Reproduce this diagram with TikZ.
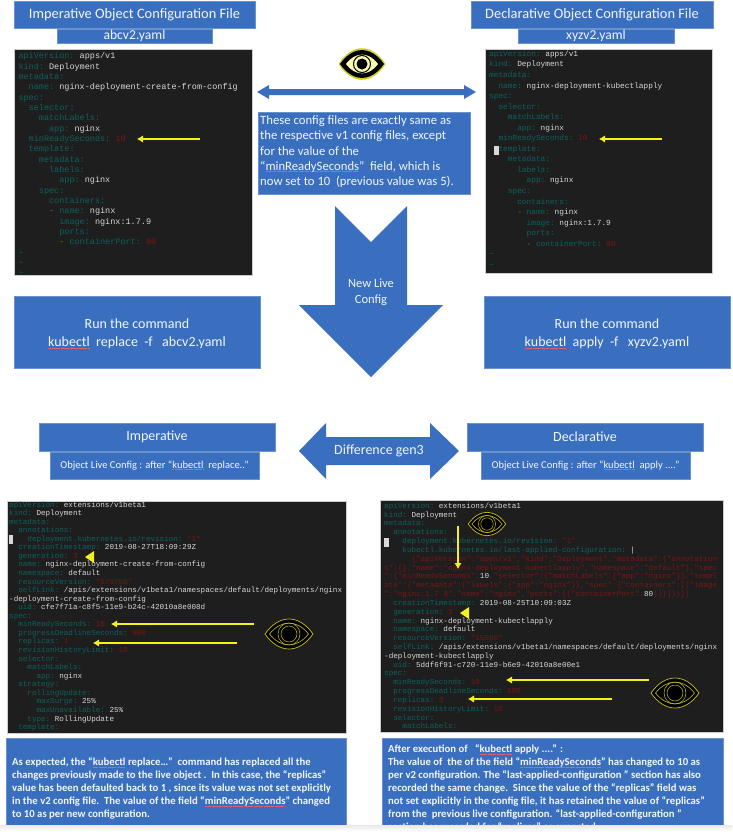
\documentclass[tikz,border=0pt]{standalone}
\usepackage{fontspec}
\usepackage{xcolor}
\setmainfont{Carlito}
\newfontfamily\cm{Liberation Mono}
\usetikzlibrary{arrows.meta}
\definecolor{bl}{HTML}{3A6FBF}
\definecolor{bledge}{HTML}{6A92CF}
\definecolor{tbg}{HTML}{1E1E1E}
\definecolor{kc}{HTML}{0C625E}
\definecolor{vc}{HTML}{D8D8D8}
\definecolor{nc}{HTML}{7A1614}
\definecolor{oc}{HTML}{8A6A10}
\definecolor{wt}{HTML}{F2F6FC}
\definecolor{yl}{HTML}{F5F01E}
\definecolor{sqc}{HTML}{E0606E}
\newcommand\K[1]{\textcolor{kc}{#1}}
\newcommand\N[1]{\textcolor{nc}{#1}}
\newcommand\D{\textcolor{oc}{-}}
\newsavebox\sqbox
\newcommand\sq[1]{\sbox\sqbox{#1}\leavevmode\rlap{\raisebox{-1.4pt}{\hbox to \wd\sqbox{\color{sqc}\xleaders\hbox{\rule{0.5pt}{0.4pt}\kern0.6pt}\hfil}}}\usebox\sqbox}
\newcommand\tl{\K{\textasciitilde}}
\tikzset{
  x=1pt,y=-1pt,
  bluebox/.style={fill=bl,draw=bledge,line width=0.5pt,minimum width=0pt,inner sep=0pt},
  boxtext/.style={text=wt,align=center,inner sep=0pt,font=\fontsize{#1}{#1}\selectfont},
  para/.style={text=wt,align=left,anchor=north west,inner sep=0pt},
  term/.style={fill=tbg,draw=black!20,line width=0.5pt},
  ya/.style={draw=yl,line width=1.8pt,-{Latex[length=6pt,width=7.5pt]}},
  code/.style={anchor=north west,inner sep=0pt,align=left,text=vc},
  cursor/.style={fill=vc},
  eyeW/.pic={
    \fill[yl!85!black] (-23.5,0) .. controls (-10,-21) and (10,-21) .. (23.5,0) .. controls (10,21) and (-10,21) .. (-23.5,0) -- cycle;
    \fill[black] (-22,0) .. controls (-9,-18.5) and (9,-18.5) .. (22,0) .. controls (9,18.5) and (-9,18.5) .. (-22,0) -- cycle;
    \fill[yl!35!white] (-16,0) .. controls (-7,-12.5) and (7,-12.5) .. (16,0) .. controls (7,12.5) and (-7,12.5) .. (-16,0) -- cycle;
    \draw[black,line width=1pt] (0,0) circle[radius=8.5];
    \fill[black] (0,0) circle[radius=5.5];
  },
  eyeD/.pic={
    \fill[black,draw=yl!80!black,line width=0.7pt] (-24,0) .. controls (-10,-20) and (10,-20) .. (24,0) .. controls (10,20) and (-10,20) .. (-24,0) -- cycle;
    \draw[yl!80!black,line width=0.6pt] (-19.5,0) .. controls (-8,-14.5) and (8,-14.5) .. (19.5,0) .. controls (8,14.5) and (-8,14.5) .. (-19.5,0) -- cycle;
    \draw[yl!80!black,line width=0.5pt] (0,0) circle[radius=11];
    \draw[yl!80!black,line width=0.5pt] (0,0) circle[radius=8];
    \fill[black] (0,0) circle[radius=5];
  }
}
\begin{document}
\begin{tikzpicture}
\useasboundingbox (0,0) rectangle (732,839);
\fill[white] (0,0) rectangle (732,839);

% headers
\node[bluebox,minimum width=241pt,minimum height=27pt] (h1) at (134.5,14.5) {};
\node[boxtext=14.4] at (h1) {Imperative Object Configuration File};
\node[bluebox,minimum width=155pt,minimum height=14pt] (f1) at (134.5,36) {};
\node[boxtext=13.6] at (f1) {abcv2.yaml};
\node[bluebox,minimum width=242pt,minimum height=27pt] (h2) at (592,14.5) {};
\node[boxtext=14.4] at (h2) {Declarative Object Configuration File};
\node[bluebox,minimum width=156pt,minimum height=14pt] (f2) at (596,36) {};
\node[boxtext=13.6] at (f2) {xyzv2.yaml};

% terminal 1
\fill[term] (14,49) rectangle (252,275);
\node[code,font=\cm\fontsize{8.5}{10.33}\selectfont\frenchspacing] (c1) at (18.3,52.5) {%
\K{apiVersion:} apps/v1\\
\K{kind:} Deployment\\
\K{metadata:}\\
~~\K{name:} nginx-deployment-create-from-config\\
\K{spec:}\\
~~\K{selector:}\\
~~~~\K{matchLabels:}\\
~~~~~~\K{app:} nginx\\
~~\K{minReadySeconds:} \N{10}\\
~~\K{template:}\\
~~~~\K{metadata:}\\
~~~~~~\K{labels:}\\
~~~~~~~~\K{app:} nginx\\
~~~~\K{spec:}\\
~~~~~~\K{containers:}\\
~~~~~~\D{} \K{name:} nginx\\
~~~~~~~~\K{image:} nginx:1.7.9\\
~~~~~~~~\K{ports:}\\
~~~~~~~~\D{} \K{containerPort:} \N{80}\\
\tl\\
\tl\\
\tl};

% terminal 2
\fill[term] (485,49) rectangle (712,273);
\node[code,font=\cm\fontsize{7.8}{10.55}\selectfont\frenchspacing] (c2) at (489,50.5) {%
\K{apiVersion:} apps/v1\\
\K{kind:} Deployment\\
\K{metadata:}\\
~~\K{name:} nginx-deployment-kubectlapply\\
\K{spec:}\\
~~\K{selector:}\\
~~~~\K{matchLabels:}\\
~~~~~~\K{app:} nginx\\
~~\K{minReadySeconds:} \N{10}\\
~~\K{template:}\\
~~~~\K{metadata:}\\
~~~~~~\K{labels:}\\
~~~~~~~~\K{app:} nginx\\
~~~~\K{spec:}\\
~~~~~~\K{containers:}\\
~~~~~~\D{} \K{name:} nginx\\
~~~~~~~~\K{image:} nginx:1.7.9\\
~~~~~~~~\K{ports:}\\
~~~~~~~~\D{} \K{containerPort:} \N{80}\\
\tl\\
\tl};
\fill[cursor] (494,146) rectangle (499,155);

\coordinate (a1s) at (200,139); \coordinate (a1e) at (137,139);
\draw[ya] (a1s) -- (a1e);
\coordinate (a2s) at (662,139); \coordinate (a2e) at (599,139);
\draw[ya] (a2s) -- (a2e);

% centre top
\pic at (362,64) {eyeW};
\fill[bl] (257,92) -- (269,85) -- (269,89) -- (464,89) -- (464,85) -- (476,92) -- (464,99) -- (464,95) -- (269,95) -- (269,99) -- cycle;
\node[bluebox,minimum width=212pt,minimum height=82pt] (note) at (364,153) {};
\node[para,font=\fontsize{12.7}{15.3}\selectfont] at (260,115.5) {These config files are exactly same as\\
the respective v1 config files, except\\
for the value of the\\
“\sq{minReadySeconds}”\ \ field, which is\\
now set to 10\ \ (previous value was 5).};

% big down arrow
\fill[bl] (335,206) -- (371,242) -- (407,206) -- (407,305) -- (443,305) -- (371,377) -- (299,305) -- (335,305) -- cycle;
\node[boxtext=12.5,align=center] (nl) at (371,292.5) {New Live\\[3.5pt]Config};

% run boxes
\node[bluebox,minimum width=246pt,minimum height=72pt] (r1) at (137,332) {};
\node[boxtext=14,text=wt] at (137,334) {Run the command\\[4pt]\sq{kubectl}\ \ replace\ \ -f\ \ \ abcv2.yaml};
\node[bluebox,minimum width=246pt,minimum height=72pt] (r2) at (607,332) {};
\node[boxtext=14,text=wt] at (607,334) {Run the command\\[4pt]\sq{kubectl}\ \ apply\ \ -f\ \ \ xyzv2.yaml};

% second row
\node[bluebox,minimum width=236pt,minimum height=28pt] (imp) at (157,437) {};
\node[boxtext=14] at (imp) {Imperative};
\node[bluebox,minimum width=209pt,minimum height=27pt] (ol1) at (154.5,465.5) {};
\node[boxtext=10.5] at (ol1) {Object Live Config : after “\sq{kubectl}\ \ replace..”};
\node[bluebox,minimum width=236pt,minimum height=28pt] (dec) at (585,437) {};
\node[boxtext=14] at (dec) {Declarative};
\node[bluebox,minimum width=209pt,minimum height=27pt] (ol2) at (585.5,465.5) {};
\node[boxtext=10.5] at (ol2) {Object Live Config : after “\sq{kubectl}\ \ apply ....”};
\fill[bl] (299,451) -- (326,423) -- (326,437) -- (430,437) -- (430,423) -- (459,451) -- (430,479) -- (430,465) -- (326,465) -- (326,479) -- cycle;
\node[boxtext=14] (dg) at (379,451) {Difference gen3};

% terminal 3
\fill[term] (7,501) rectangle (346,733);
\node[code,font=\cm\fontsize{7.6}{8.56}\selectfont\frenchspacing] (c3) at (9,501.3) {%
\K{apiVersion:} extensions/v1beta1\\
\K{kind:} Deployment\\
\K{metadata:}\\
~~\K{annotations:}\\
~~~~\K{deployment.kubernetes.io/revision:} \N{"1"}\\
~~\K{creationTimestamp:} 2019-08-27T18:09:29Z\\
~~\K{generation:} \N{3}\\
~~\K{name:} nginx-deployment-create-from-config\\
~~\K{namespace:} default\\
~~\K{resourceVersion:} \N{"579756"}\\
~~\K{selfLink:} /apis/extensions/v1beta1/namespaces/default/deployments/nginx\\
-deployment-create-from-config\\
~~\K{uid:} cfe7f71a-c8f5-11e9-b24c-42010a8e008d\\
\K{spec:}\\
~~\K{minReadySeconds:} \N{10}\\
~~\K{progressDeadlineSeconds:} \N{600}\\
~~\K{replicas:} \N{1}\\
~~\K{revisionHistoryLimit:} \N{10}\\
~~\K{selector:}\\
~~~~\K{matchLabels:}\\
~~~~~~\K{app:} nginx\\
~~\K{strategy:}\\
~~~~\K{rollingUpdate:}\\
~~~~~~\K{maxSurge:} 25\%\\
~~~~~~\K{maxUnavailable:} 25\%\\
~~~~\K{type:} RollingUpdate\\
~~\K{template:}};
\fill[cursor] (8.7,535) rectangle (13,544);
\coordinate (a3s) at (254,624); \coordinate (a3e) at (111,624);
\draw[ya] (a3s) -- (a3e);
\coordinate (a4s) at (237,643); \coordinate (a4e) at (93,643);
\draw[ya] (a4s) -- (a4e);
\fill[yl] (85,557) -- (94,551) -- (94,563) -- cycle;
\pic at (289,634) {eyeD};

% terminal 4
\fill[term] (380,500) rectangle (723,732);
\node[code,font=\cm\fontsize{7.6}{8.83}\selectfont\frenchspacing] (c4) at (384,502.5) {%
\K{apiVersion:} extensions/v1beta1\\
\K{kind:} Deployment\\
\K{metadata:}\\
~~\K{annotations:}\\
~~~~\K{deployment.kubernetes.io/revision:} \N{"1"}\\
~~~~\K{kubectl.kubernetes.io/last-applied-configuration:} |\\
~~~~~~\N{\{"apiVersion":"apps/v1","kind":"Deployment","metadata":\{"annotation}\\
\N{s":\{\},"name":"nginx-deployment-kubectlapply","namespace":"default"\},"spec}\\
\N{":\{"minReadySeconds":}10\N{,"selector":\{"matchLabels":\{"app":"nginx"\}\},"templ}\\
\N{ate":\{"metadata":\{"labels":\{"app":"nginx"\}\},"spec":\{"containers":[\{"image}\\
\N{":"nginx:1.7.9","name":"nginx","ports":[\{"containerPort":}80\N{\}]\}]\}\}\}\}}\\
~~\K{creationTimestamp:} 2019-08-25T10:09:03Z\\
~~\K{generation:} \N{3}\\
~~\K{name:} nginx-deployment-kubectlapply\\
~~\K{namespace:} default\\
~~\K{resourceVersion:} \N{"15590"}\\
~~\K{selfLink:} /apis/extensions/v1beta1/namespaces/default/deployments/nginx\\
-deployment-kubectlapply\\
~~\K{uid:} 5ddf6f91-c720-11e9-b6e9-42010a8e00e1\\
\K{spec:}\\
~~\K{minReadySeconds:} \N{10}\\
~~\K{progressDeadlineSeconds:} \N{600}\\
~~\K{replicas:} \N{3}\\
~~\K{revisionHistoryLimit:} \N{10}\\
~~\K{selector:}\\
~~~~\K{matchLabels:}};
\fill[cursor] (384,538) rectangle (389,547);
\coordinate (a5s) at (458,526); \coordinate (a5e) at (458,569);
\draw[ya] (a5s) -- (a5e);
\coordinate (a6s) at (649,680); \coordinate (a6e) at (506,680);
\draw[ya] (a6s) -- (a6e);
\coordinate (a7s) at (612,699); \coordinate (a7e) at (468,699);
\draw[ya] (a7s) -- (a7e);
\fill[yl] (460,613) -- (469,607) -- (469,619) -- cycle;
\pic[scale=0.78] at (487,524) {eyeD};
\pic at (675,693) {eyeD};

% bottom boxes
\node[bluebox,minimum width=340pt,minimum height=87pt] (b1) at (176.5,781.5) {};
\node[para,font=\fontsize{10.7}{13.05}\selectfont\bfseries] at (12,757.5) {As expected, the “\sq{kubectl} replace…”\ \ command has replaced all the\\
changes previously made to the live object .\ \ In this case, the “replicas”\\
value has been defaulted back to 1 , since its value was not set explicitly\\
in the v2 config file.\ \ The value of the field “\sq{minReadySeconds}” changed\\
to 10 as per new configuration.};
\node[bluebox,minimum width=341pt,minimum height=87pt] (b2) at (552.5,781.5) {};
\begin{scope}
\clip (382,738) rectangle (723,825);
\node[para,font=\fontsize{10.7}{13.05}\selectfont\bfseries] at (388,744.5) {After execution of\ \ \ “\sq{kubectl} apply ....” :\\
The value of\ \ the of the field “\sq{minReadySeconds}” has changed to 10 as\\
per v2 configuration. The “last-applied-configuration ” section has also\\
recorded the same change.\ \ Since the value of the “replicas” field was\\
not set explicitly in the config file, it has retained the value of “replicas”\\
from the\ \ previous live configuration. “last-applied-configuration ”\\
section has recorded for “replicas” as expected.};
\end{scope}
\shade[top color=black!9,bottom color=white] (0,825) rectangle (732,831);
\end{tikzpicture}
\end{document}
